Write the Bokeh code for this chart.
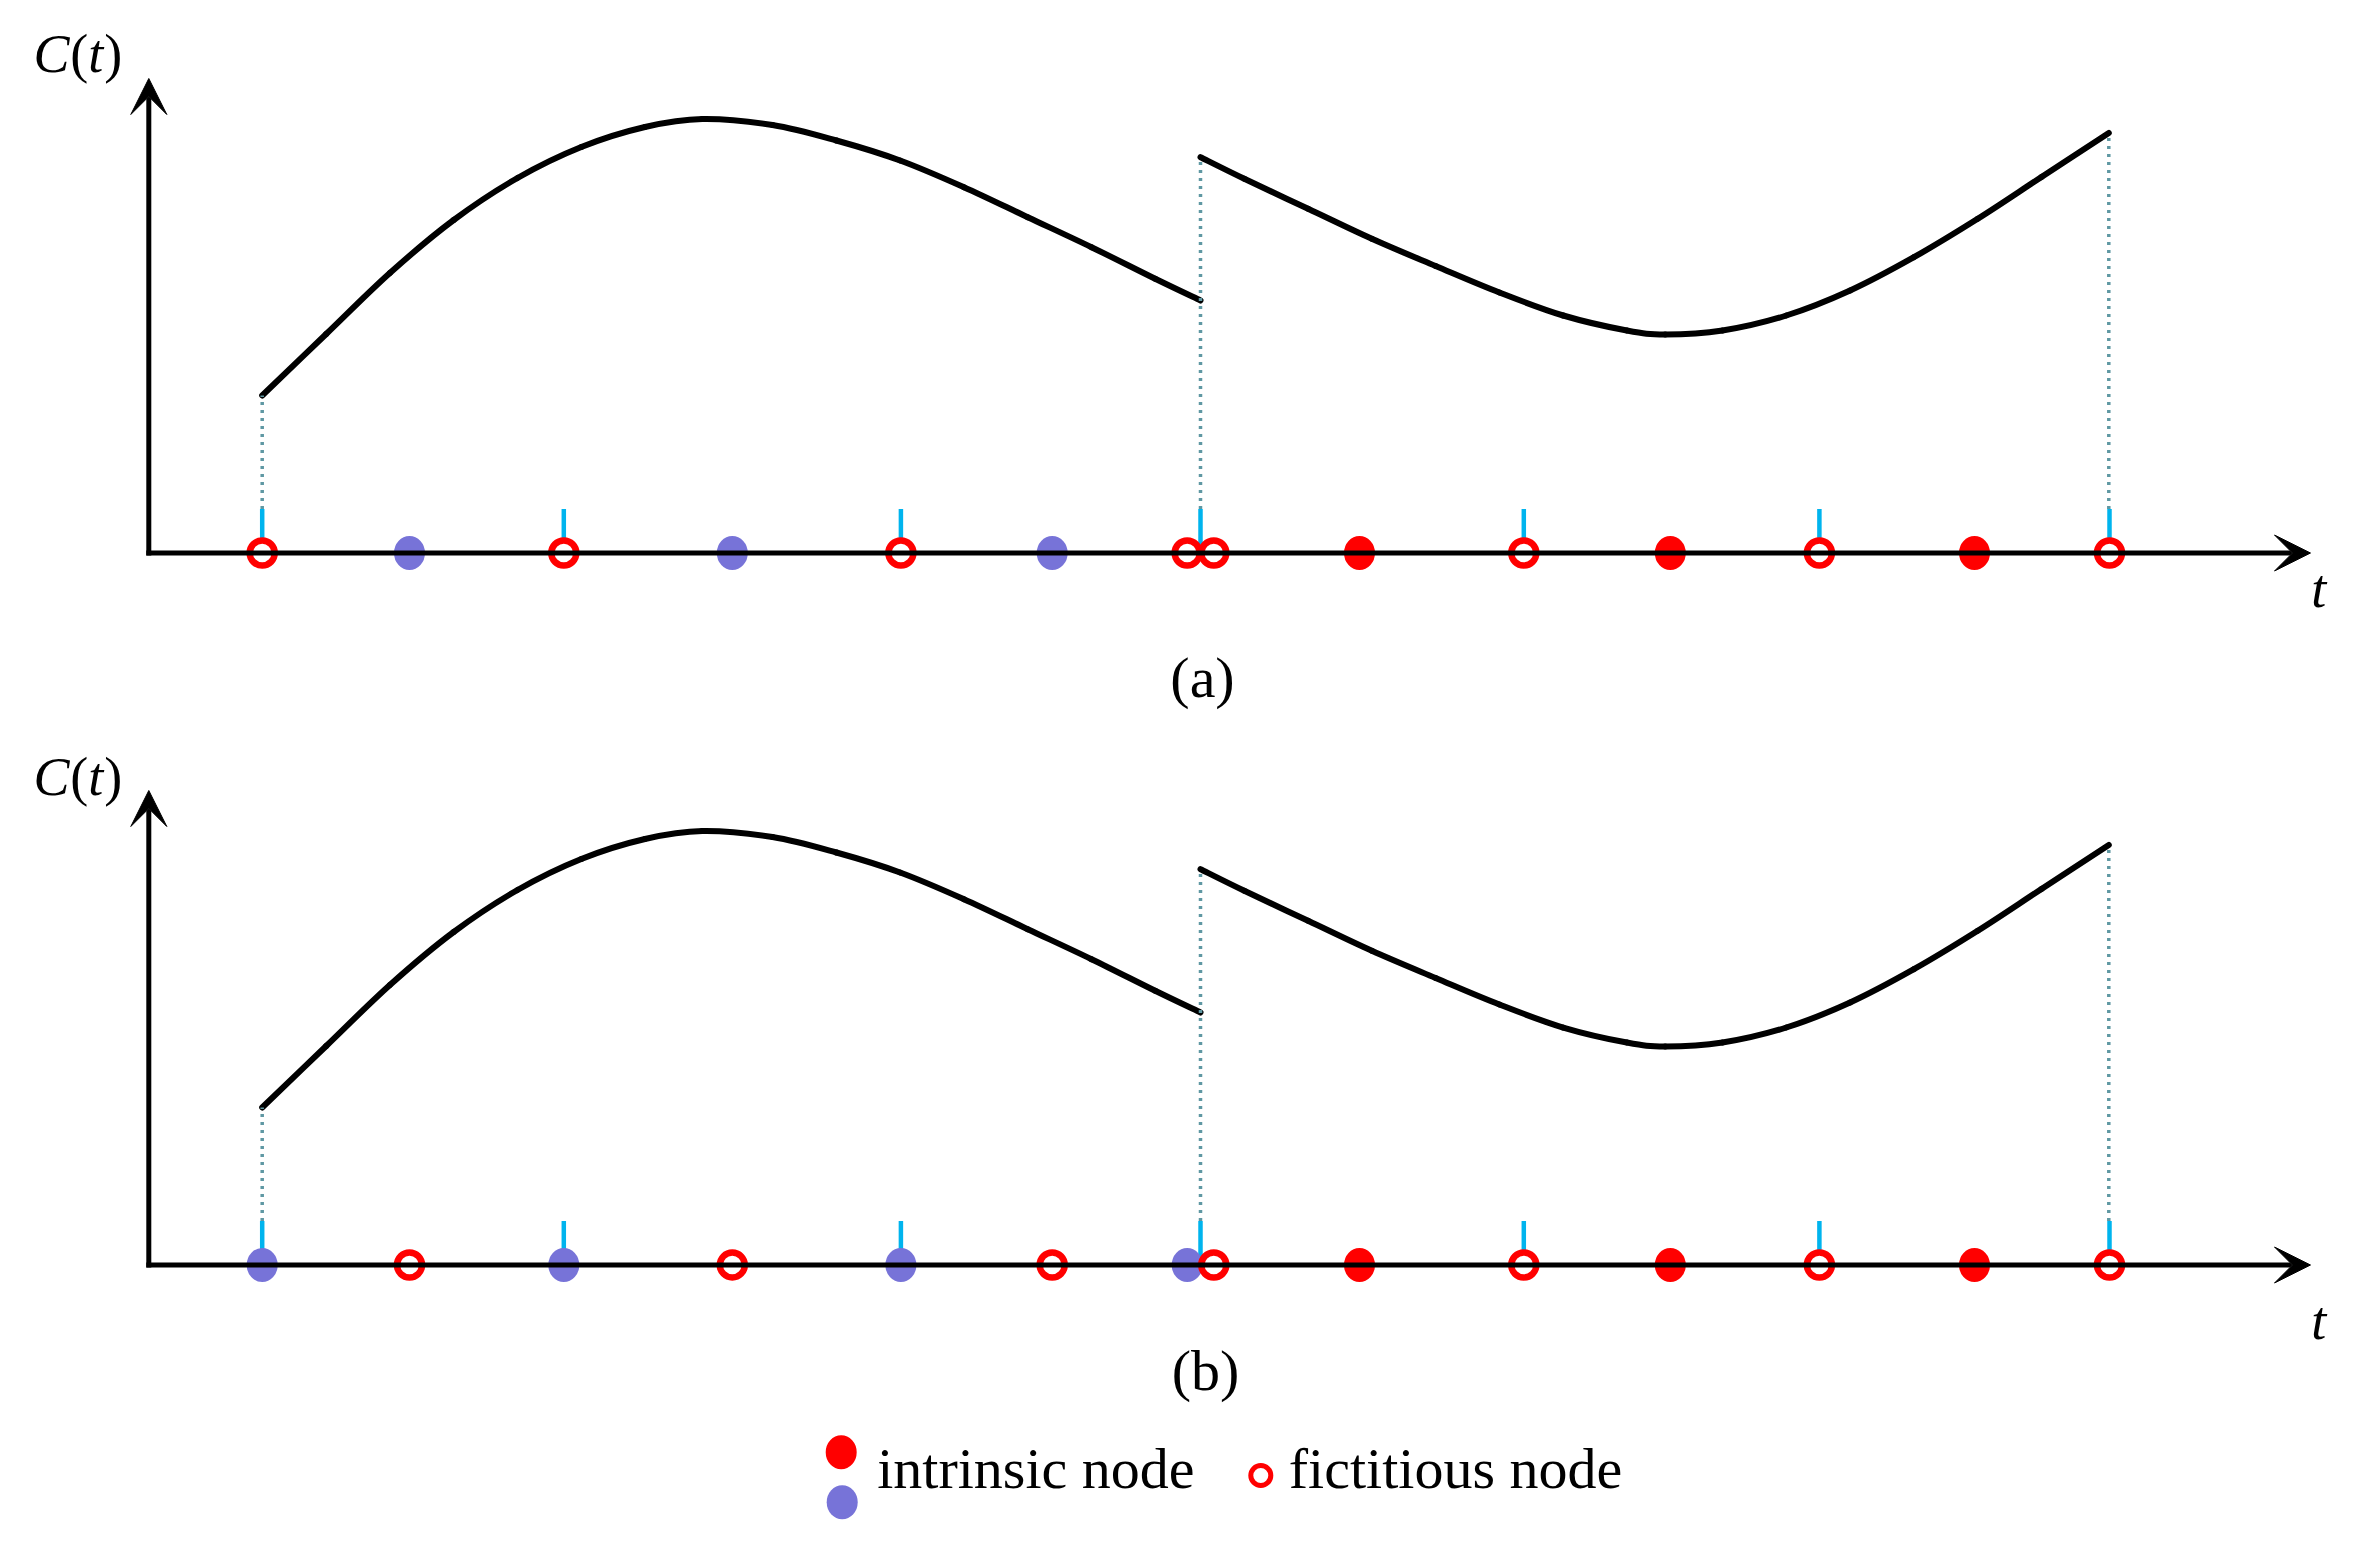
from bokeh.plotting import figure
from bokeh.models import Arrow, VeeHead, Range1d
from bokeh.core.properties import value
from bokeh.embed import file_html
from bokeh.resources import INLINE

# ---------------- data (t along the time axis, C = curve value) ----------------
# element boundaries of segment 1 and segment 2 (fictitious nodes / tick marks)
seg1_bounds = [1.134, 4.150, 7.521, 10.517]
seg2_bounds = [10.517, 13.750, 16.706, 19.607]
# interior nodes of each element
seg1_mid = [2.607, 5.835, 9.034]
seg2_mid = [12.107, 15.215, 18.257]

# piecewise curve C(t), two segments
curve1_t = [1.134, 1.774, 2.411, 3.049, 3.687, 4.325, 4.962, 5.536, 6.237,
            6.876, 7.513, 8.151, 8.789, 9.427, 10.064, 10.517]
curve1_c = [1.575, 2.190, 2.800, 3.330, 3.750, 4.060, 4.260, 4.340, 4.280,
            4.125, 3.925, 3.658, 3.358, 3.058, 2.742, 2.525]
curve2_t = [10.517, 10.955, 11.593, 12.230, 12.868, 13.506, 14.144, 14.781,
            15.164, 15.737, 16.375, 17.013, 17.651, 18.289, 18.927, 19.600]
curve2_c = [3.958, 3.742, 3.442, 3.142, 2.870, 2.605, 2.375, 2.225,
            2.185, 2.225, 2.375, 2.625, 2.958, 3.342, 3.760, 4.200]

tick_height = 0.44
panels = ["(a)", "(b)"]
panel_offset = [0.0, -7.12]

# ---------------- styles ----------------
RED = "#ff0000"
BLUE = "#7773d8"
CYAN = "#00b4ee"
DOT = "#5f98a3"
FONT = value("Liberation Serif")
pair_shift = 0.133  # visual separation of the two nodes sharing t = 10.517

p = figure(width=2345, height=1535, output_backend="svg", toolbar_location=None,
           x_range=Range1d(-1.483, 21.967), y_range=Range1d(-9.825, 5.525),
           min_border=0, x_axis_location=None, y_axis_location=None)
p.grid.visible = False
p.outline_line_color = None
p.background_fill_color = "white"


def smooth_line(ts, cs, off):
    """Draw a smooth curve through the read points (Catmull-Rom as cubic Beziers)."""
    pts = [(t, c + off) for t, c in zip(ts, cs)]
    n = len(pts)
    x0, y0, x1, y1, cx0, cy0, cx1, cy1 = ([] for _ in range(8))
    for i in range(n - 1):
        pa = pts[max(i - 1, 0)]
        pb = pts[i]
        pc = pts[i + 1]
        pd = pts[min(i + 2, n - 1)]
        x0.append(pb[0]); y0.append(pb[1])
        x1.append(pc[0]); y1.append(pc[1])
        cx0.append(pb[0] + (pc[0] - pa[0]) / 6.0)
        cy0.append(pb[1] + (pc[1] - pa[1]) / 6.0)
        cx1.append(pc[0] - (pd[0] - pb[0]) / 6.0)
        cy1.append(pc[1] - (pd[1] - pb[1]) / 6.0)
    p.bezier(x0=x0, y0=y0, x1=x1, y1=y1, cx0=cx0, cy0=cy0, cx1=cx1, cy1=cy1,
             line_color="black", line_width=6, line_cap="round")


def open_nodes(xs, ys):
    p.scatter(xs, ys, marker="circle", size=25, fill_color="white",
              line_color=RED, line_width=6.5)


def filled_nodes(xs, ys, color):
    p.ellipse(xs, ys, width=31, height=34, width_units="screen",
              height_units="screen", fill_color=color, line_color=None)


def text(x, y, s, size, style="normal", align="left"):
    p.text(x=[x], y=[y], text=[s], text_font=FONT, text_font_size=size,
           text_font_style=style, text_align=align, text_baseline="alphabetic",
           text_color="black")


label_x = [10.537, 10.567]
label_y = [-1.245, -8.175]
ct_y = [4.99, -2.235]
t_y = [-0.355, -7.675]

for k, off in enumerate(panel_offset):
    # curve
    smooth_line(curve1_t, curve1_c, off)
    smooth_line(curve2_t, curve2_c, off)

    # dotted connectors from tick top to curve ends
    dx = [curve1_t[0], seg1_bounds[-1], curve2_t[-1]]
    dtop = [curve1_c[0], max(curve1_c[-1], curve2_c[0]), curve2_c[-1]]
    p.segment(x0=dx, y0=[tick_height + off] * 3, x1=dx, y1=[d + off for d in dtop],
              line_color=DOT, line_width=3.5, line_dash="3 5")

    # cyan ticks at element boundaries
    bounds = seg1_bounds + seg2_bounds[1:]
    p.segment(x0=bounds, y0=[off] * len(bounds), x1=bounds,
              y1=[tick_height + off] * len(bounds), line_color=CYAN, line_width=4.5)

    # axes with arrow heads
    p.add_layout(Arrow(end=VeeHead(size=36, fill_color="black", line_color="black",
                                   line_width=1),
                       x_start=-0.025, y_start=off, x_end=21.617, y_end=off,
                       line_width=5, line_color="black"))
    p.add_layout(Arrow(end=VeeHead(size=36, fill_color="black", line_color="black",
                                   line_width=1),
                       x_start=0, y_start=off - 0.025, x_end=0, y_end=4.745 + off,
                       line_width=5, line_color="black"))

    # nodes of segment 1
    s1x = list(seg1_bounds[:-1]) + [seg1_bounds[-1] - pair_shift]
    s1y = [off] * len(s1x)
    my = [off] * len(seg1_mid)
    if k == 0:
        open_nodes(s1x, s1y)
        filled_nodes(seg1_mid, my, BLUE)
    else:
        filled_nodes(s1x, s1y, BLUE)
        open_nodes(seg1_mid, my)

    # nodes of segment 2
    s2x = [seg2_bounds[0] + pair_shift] + list(seg2_bounds[1:])
    open_nodes(s2x, [off] * len(s2x))
    filled_nodes(seg2_mid, [off] * len(seg2_mid), RED)

    # texts: C(t) with italic letters and upright parentheses
    text(-1.153, ct_y[k], "C", "54px", "italic")
    text(-0.785, ct_y[k], "(", "54px")
    text(-0.605, ct_y[k], "t", "54px", "italic")
    text(-0.445, ct_y[k], ")", "54px")
    text(21.70, t_y[k], "t", "54px", "italic", "center")
    text(label_x[k], label_y[k], panels[k], "58px", "normal", "center")

# legend
filled_nodes([6.924], [-8.992], RED)
filled_nodes([6.934], [-9.492], BLUE)
text(7.284, -9.15, "intrinsic node", "58px")
p.scatter([11.12], [-9.225], marker="circle", size=20, fill_color="white",
          line_color=RED, line_width=5)
text(11.40, -9.15, "fictitious node", "58px")

open("out.html", "w").write(file_html(p, INLINE))
